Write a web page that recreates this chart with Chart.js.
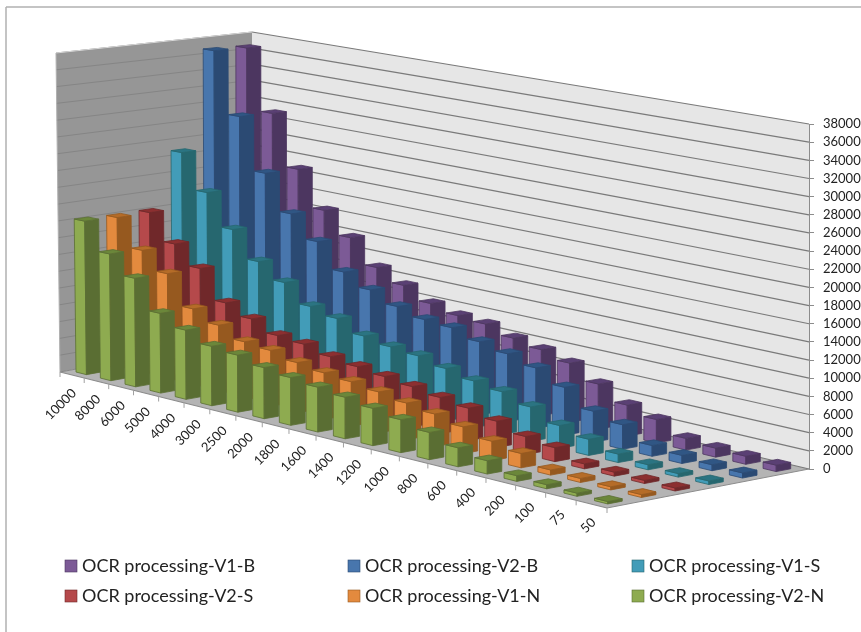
<!DOCTYPE html>
<html>
<head>
<meta charset="utf-8">
<style>
html,body{margin:0;padding:0;background:#fff;}
canvas{display:block;}
</style>
<script src="https://cdn.jsdelivr.net/npm/chart.js@4"></script>
</head>
<body>
<canvas id="myChart" width="861" height="632"></canvas>
<script>
const categories = ["10000","8000","6000","5000","4000","3000","2500","2000","1800","1600","1400","1200","1000","800","600","400","200","100","75","50"];
const seriesNames = ["OCR processing-V1-B","OCR processing-V2-B","OCR processing-V1-S","OCR processing-V2-S","OCR processing-V1-N","OCR processing-V2-N"];
const v1B = [36700,29200,22960,18600,15940,13030,11590,10130,9410,9130,8210,7600,6780,5140,3500,2640,1300,1000,890,700];
const v2B = [36800,29300,23000,18720,16040,13080,11640,10380,9560,9310,8400,7740,6860,5400,3470,2720,1190,890,650,550];
const v1S = [24850,20600,16770,13580,11760,9610,8890,7550,7000,6690,5960,5280,4800,3840,2530,1780,930,550,380,380];
const v2S = [18130,14980,12700,9280,8070,6820,6520,5780,5350,4950,4540,4050,3600,2900,1970,1520,540,430,330,320];
const v1N = [18100,14800,12670,9190,7960,6720,6420,5730,5280,4990,4570,4060,3590,2920,2110,1550,550,430,330,300];
const v2N = [18230,14950,12720,9270,8000,6820,6500,5780,5360,5000,4600,4100,3590,2950,2040,1420,600,430,330,250];
const seriesValues = [v1B,v2B,v1S,v2S,v1N,v2N];

// front, side and top shades of each series
const frontColors = ["#7c5a96","#4876ad","#429cb8","#b5494b","#e38a3e","#8eab50"];
const sideColors = ["#4c3660","#2b4a73","#26676f","#70282a","#96591f","#5a6e33"];
const topColors = ["#5a4074","#305684","#2b7482","#8c2f30","#b56c28","#6b873a"];

// screen corners of the 3d box: floor and the plane at the axis maximum
const floorBox = {fl:[60,372],fr:[607,508],bl:[252,337],br:[809,469]};
const topBox = {fl:[56,53],fr:[610,138],bl:[252,32],br:[809,124]};
const frontBend = -0.12, backBend = -0.09;
const barShare = 0.43;

function lerp(a,b,t){ return [a[0]+(b[0]-a[0])*t, a[1]+(b[1]-a[1])*t]; }
function bend(u,g){ return u*(1+g)/(1+g*u); }
function planePoint(box,u,v){
    return lerp(lerp(box.fl,box.fr,bend(u,frontBend)), lerp(box.bl,box.br,bend(u,backBend)), v);
}
function project(u,v,h){ return lerp(planePoint(floorBox,u,v), planePoint(topBox,u,v), h); }

function poly(ctx,pts,fill,stroke){
    ctx.beginPath();
    pts.forEach((p,i)=> i ? ctx.lineTo(p[0],p[1]) : ctx.moveTo(p[0],p[1]));
    ctx.closePath();
    ctx.fillStyle = fill;
    ctx.fill();
    if(stroke){ ctx.strokeStyle = stroke; ctx.lineWidth = 0.8; ctx.stroke(); }
}
function seg(ctx,a,b,color,w){
    ctx.beginPath();
    ctx.moveTo(a[0],a[1]);
    ctx.lineTo(b[0],b[1]);
    ctx.strokeStyle = color;
    ctx.lineWidth = w;
    ctx.stroke();
}

const scene = {
    id: "scene",
    beforeDatasetsDraw(chart){
        const ctx = chart.ctx;
        const xs = chart.scales.x, ys = chart.scales.y, zs = chart.scales.z;
        const uOf = i => (xs.getPixelForValue(i)-xs.left)/xs.width;
        const vOf = k => (zs.getPixelForValue(k)-zs.left)/zs.width;
        const hOf = val => (ys.bottom-ys.getPixelForValue(val))/ys.height;
        const du = 1/categories.length, dv = 1/seriesNames.length;

        ctx.save();
        // frame
        seg(ctx,[6,7],[861,7],"#b0b0b0",1.5);
        seg(ctx,[6,7],[6,632],"#b0b0b0",1.5);
        // walls and floor
        poly(ctx,[project(0,0,0),project(0,1,0),project(0,1,1),project(0,0,1)],"#969696");
        poly(ctx,[project(0,1,0),project(1,1,0),project(1,1,1),project(0,1,1)],"#e6e6e6");
        poly(ctx,[project(0,0,0),project(1,0,0),project(1,1,0),project(0,1,0)],"#b4b4b4");
        ys.ticks.forEach(t=>{
            const h = hOf(t.value);
            seg(ctx,project(0,0,h),project(0,1,h),"#858585",1);
            seg(ctx,project(0,1,h),project(1,1,h),"#7a7a7a",1.2);
        });
        seg(ctx,project(0,0,1),project(0,1,1),"#d8d8d8",1);
        seg(ctx,project(0,0,0),project(0,0,1),"#b0b0b0",1);
        seg(ctx,project(0,0,0),project(1,0,0),"#8c8c8c",1.2);
        seg(ctx,project(1,0,0),project(1,1,0),"#8c8c8c",1);

        // category ticks and slanted labels
        ctx.font = "13px Lato";
        ctx.textAlign = "right";
        ctx.textBaseline = "middle";
        for(let i=0;i<=categories.length;i++){
            const p = project(i*du,0,0);
            seg(ctx,p,[p[0],p[1]+5],"#a0a0a0",1);
        }
        categories.forEach((c,i)=>{
            const p = project(uOf(i),0,0);
            ctx.save();
            ctx.translate(p[0]+2,p[1]+16);
            ctx.rotate(-Math.PI/4);
            ctx.fillStyle = "#222";
            ctx.fillText(c,0,0);
            ctx.restore();
        });

        // bars, back series first, left to right
        const hw = barShare/2;
        chart.data.datasets.forEach((ds,d)=>{
            const k = seriesNames.length-1-d;
            ds.data.forEach((val,i)=>{
                const u0 = uOf(i)-hw*du, u1 = uOf(i)+hw*du;
                const v0 = vOf(k)-hw*dv, v1 = vOf(k)+hw*dv;
                const h = hOf(val);
                const line = sideColors[d];
                poly(ctx,[project(u0,v0,0),project(u1,v0,0),project(u1,v0,h),project(u0,v0,h)],frontColors[d],line);
                poly(ctx,[project(u1,v0,0),project(u1,v1,0),project(u1,v1,h),project(u1,v0,h)],sideColors[d],line);
                poly(ctx,[project(u0,v0,h),project(u1,v0,h),project(u1,v1,h),project(u0,v1,h)],topColors[d],line);
            });
        });

        // legend
        const colX = [65,348,632], rowY = [566,596];
        ctx.font = "18px Lato";
        ctx.textAlign = "left";
        seriesNames.forEach((name,d)=>{
            const x = colX[d%3], y = rowY[Math.floor(d/3)];
            ctx.fillStyle = frontColors[d];
            ctx.fillRect(x,y-6,12,12);
            ctx.strokeStyle = sideColors[d];
            ctx.lineWidth = 0.6;
            ctx.strokeRect(x,y-6,12,12);
            ctx.fillStyle = "#222";
            ctx.fillText(name,x+17,y);
        });
        ctx.restore();
        return false;
    }
};

const conf = {
    type: "bar",
    data: {
        labels: categories,
        datasets: seriesNames.map((name,d)=>({
            label: name,
            data: seriesValues[d],
            backgroundColor: frontColors[d]
        }))
    },
    options: {
        responsive: false,
        animation: false,
        layout: {padding: {top:124,bottom:163,left:0,right:0}},
        plugins: {legend:{display:false}, tooltip:{enabled:false}},
        scales: {
            x: {display:false},
            z: {type:"category",axis:"x",position:"bottom",display:false,offset:true,labels:seriesNames.slice().reverse()},
            y: {
                position: "right",
                min: 0,
                max: 38000,
                afterFit(s){ s.width = 52; },
                border: {color:"#8c8c8c"},
                grid: {drawOnChartArea:false,tickLength:5,color:"#8c8c8c"},
                ticks: {stepSize:2000,autoSkip:false,padding:9,color:"#222",font:{family:"Lato",size:13},callback:v=>String(v)}
            }
        }
    },
    plugins: [scene]
};
new Chart(document.getElementById("myChart"), conf);
</script>
</body>
</html>
